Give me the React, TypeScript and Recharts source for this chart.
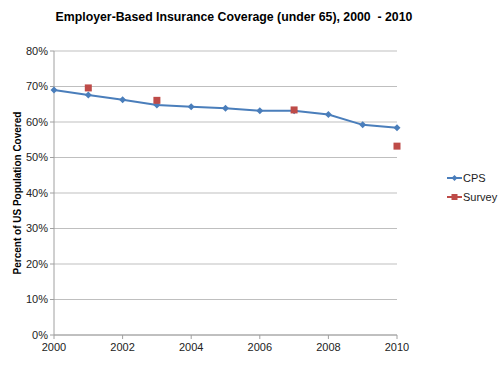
import { LineChart, Line, XAxis, YAxis, CartesianGrid, Label } from 'recharts';

const years = [2000, 2001, 2002, 2003, 2004, 2005, 2006, 2007, 2008, 2009, 2010];
const cps = [69.0, 67.6, 66.3, 64.8, 64.3, 63.9, 63.2, 63.2, 62.1, 59.2, 58.4];
const surveyYears = [2001, 2003, 2007, 2010];
const survey = [69.6, 66.1, 63.4, 53.2];
const xTicks = [2000, 2002, 2004, 2006, 2008, 2010];
const yTicks = [0, 10, 20, 30, 40, 50, 60, 70, 80];

const CPS_COLOR = '#4a7ebb';
const SURVEY_COLOR = '#be4b48';
const FONT = '"Liberation Sans", Arial, sans-serif';

const data = years.map(year => {
  const i = surveyYears.indexOf(year);
  return { year, cps: cps[years.indexOf(year)], survey: i >= 0 ? survey[i] : null };
});

const Diamond = (props: any) => {
  const { cx, cy } = props;
  if (cx == null || cy == null) return null;
  return <path d={`M${cx},${cy - 3.5}L${cx + 3.5},${cy}L${cx},${cy + 3.5}L${cx - 3.5},${cy}Z`} fill={CPS_COLOR} />;
};

const Square = (props: any) => {
  const { cx, cy, value } = props;
  if (cx == null || cy == null || value == null) return null;
  return <rect x={cx - 3.5} y={cy - 3.5} width={7} height={7} fill={SURVEY_COLOR} />;
};

const LegendBox = () => (
  <div style={{ position: 'absolute', left: 447, top: 172, fontFamily: FONT, fontSize: 11, color: '#222' }}>
    <div style={{ display: 'flex', alignItems: 'center', height: 12, marginBottom: 7 }}>
      <svg width={15} height={10}>
        <line x1={0} y1={5} x2={15} y2={5} stroke={CPS_COLOR} strokeWidth={2} />
        <path d="M7.5,2L10.5,5L7.5,8L4.5,5Z" fill={CPS_COLOR} />
      </svg>
      <span style={{ marginLeft: 1 }}>CPS</span>
    </div>
    <div style={{ display: 'flex', alignItems: 'center', height: 12 }}>
      <svg width={15} height={10}>
        <line x1={0} y1={5} x2={15} y2={5} stroke={SURVEY_COLOR} strokeWidth={2} />
        <rect x={4.5} y={2} width={6} height={6} fill={SURVEY_COLOR} />
      </svg>
      <span style={{ marginLeft: 1 }}>Survey</span>
    </div>
  </div>
);

export default function App() {
  return (
    <div style={{ position: 'absolute', left: 0, top: 0, width: 500, height: 375, background: '#fff' }}>
      <div
        style={{
          position: 'absolute',
          left: 0,
          width: 468,
          top: 10,
          textAlign: 'center',
          fontFamily: FONT,
          fontWeight: 'bold',
          fontSize: 12.3,
          color: '#000',
        }}
      >
        Employer-Based Insurance Coverage (under 65), 2000&nbsp; - 2010
      </div>
      <LineChart width={500} height={375} data={data} margin={{ top: 51, right: 103, bottom: 0, left: 10 }}>
        <CartesianGrid vertical={false} stroke="#bfbfbf" />
        <XAxis
          dataKey="year"
          type="number"
          domain={[2000, 2010]}
          ticks={xTicks}
          height={40}
          tickSize={4}
          tickMargin={4}
          stroke="#a0a0a0"
          tick={{ fill: '#222', fontSize: 11, fontFamily: FONT }}
        />
        <YAxis
          domain={[0, 80]}
          ticks={yTicks}
          width={44}
          tickSize={4}
          stroke="#a0a0a0"
          tickFormatter={v => `${v}%`}
          tick={{ fill: '#222', fontSize: 11, fontFamily: FONT }}
        >
          <Label
            value="Percent of US Population Covered"
            angle={-90}
            position="insideLeft"
            offset={7}
            style={{ textAnchor: 'middle', fontFamily: FONT, fontSize: 10, fontWeight: 'bold', fill: '#000' }}
          />
        </YAxis>
        <Line
          dataKey="cps"
          stroke={CPS_COLOR}
          strokeWidth={2}
          dot={<Diamond />}
          activeDot={false}
          isAnimationActive={false}
        />
        <Line
          dataKey="survey"
          stroke="none"
          dot={<Square />}
          activeDot={false}
          connectNulls={false}
          isAnimationActive={false}
        />
      </LineChart>
      <LegendBox />
    </div>
  );
}
